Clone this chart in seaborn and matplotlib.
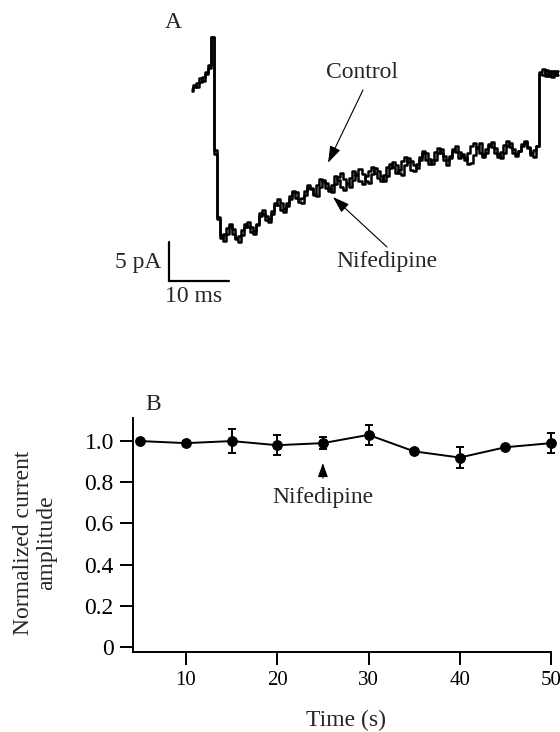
import matplotlib
matplotlib.use("Agg")
import matplotlib.pyplot as plt
import seaborn as sns
import numpy as np

# panel A: two whole-cell current traces, one sample every 0.5 ms (pA)
sample_ms = 0.5
control_pa = [
    -1.4, -0.6, -0.9, 0.2, -0.1, 1.0, 1.9, 5.5, -9.0,
    -17.5, -19.9, -20.6, -19.7, -18.7, -19.1, -20.4, -20.8, -19.9, -18.8,
    -18.2, -18.8, -19.4, -18.6, -17.1, -17.2, -18.0, -18.2, -17.2, -16.0,
    -15.3, -15.8, -16.5, -15.8, -14.9, -14.3, -15.1, -15.6, -15.8, -14.8,
    -13.8, -14.0, -14.6, -13.5, -12.7, -13.0, -13.9, -14.2, -13.4, -12.3,
    -12.8, -13.7, -14.1, -13.3, -12.5, -11.7, -12.2, -12.9, -13.3, -12.3,
    -11.6, -11.1, -11.9, -12.6, -12.9, -12.2, -11.2, -10.7, -11.2, -11.9,
    -11.5, -10.4, -9.9, -10.5, -11.5, -11.7, -10.8, -9.9, -9.4, -10.2,
    -10.8, -10.2, -9.2, -8.7, -9.4, -10.2, -10.9, -10.0, -9.1, -8.5,
    -9.2, -9.7, -10.2, -9.3, -8.5, -8.1, -8.7, -9.4, -9.9, -9.3,
    -8.5, -8.0, -8.7, -9.5, -10.0, -9.3, -8.4, -8.1, -8.8, -9.5,
    -9.1, -8.2, -7.8, -8.6, -9.4, -9.0, -8.4,
    1.0, 1.4, 0.5, 1.2, 0.4, 1.1, 0.6,
]
nifedipine_pa = [
    -1.1, -0.9, -0.4, -0.2, 0.4, 0.8, 1.6, 5.5, -9.5,
    -17.8, -20.2, -19.8, -19.0, -18.5, -19.7, -20.3, -20.0, -19.2, -18.5,
    -18.8, -19.5, -19.8, -18.5, -17.4, -16.6, -17.4, -17.8, -16.8, -15.8,
    -16.0, -16.6, -16.9, -16.1, -15.2, -14.2, -14.4, -15.3, -15.1, -14.2,
    -13.4, -13.8, -14.7, -14.9, -13.7, -12.8, -13.2, -13.9, -14.3, -13.3,
    -12.4, -11.9, -12.7, -13.2, -13.7, -12.8, -12.1, -11.4, -12.1, -12.9,
    -13.2, -12.1, -11.3, -11.7, -12.3, -13.0, -12.3, -11.3, -10.5, -10.9,
    -11.9, -12.2, -10.9, -10.0, -10.4, -10.9, -11.3, -10.2, -9.1, -9.4,
    -10.1, -10.8, -10.3, -9.4, -8.9, -9.7, -10.3, -9.7, -8.9, -9.2,
    -10.0, -9.5, -10.0, -10.7, -10.6, -9.6, -8.6, -8.1, -9.6, -8.8,
    -8.2, -8.6, -9.4, -9.9, -9.2, -8.3, -7.8, -8.6, -9.4, -9.8,
    -9.1, -8.4, -7.9, -8.7, -9.6, -9.9, -8.5,
    0.8, 0.6, 1.3, 0.5, 1.2, 0.7, 1.2,
]

# panel B: normalized current amplitude over time
time_s = [5, 10, 15, 20, 25, 30, 35, 40, 45, 50]
amplitude = [1.00, 0.99, 1.00, 0.98, 0.99, 1.03, 0.95, 0.92, 0.97, 0.99]
amplitude_err = [0.005, 0.01, 0.06, 0.05, 0.03, 0.05, 0.012, 0.05, 0.008, 0.05]

W, H = 560, 732
FS = 17


def fig_xy(x, y):
    # pixel position -> figure fraction
    return x / W, 1 - y / H


sns.set_style("ticks")
plt.rcParams["font.family"] = ["Liberation Serif", "DejaVu Serif"]
plt.rcParams["font.size"] = FS

fig = plt.figure(figsize=(W / 100, H / 100), dpi=100)

# ---- panel A ----
axA = fig.add_axes([160 / W, 1 - 300 / H, 400 / W, 280 / H])
t_ms = np.arange(len(control_pa)) * sample_ms
for trace in (control_pa, nifedipine_pa):
    sns.lineplot(x=t_ms, y=trace, color="black", lw=1.8, sort=False, estimator=None,
                 drawstyle="steps-mid", ax=axA)
axA.set_xlim(-5.333, 61.333)
axA.set_ylim(-28.2, 7.7)
axA.set_axis_off()

# scale bar: 10 ms x 5 pA
axA.plot([-3.83, -3.83, 6.17], [-20.8, -25.8, -25.8], color="black", lw=1.6,
         solid_joinstyle="miter", clip_on=False)
fig.text(*fig_xy(161, 262), "5 pA", ha="right", va="center")
fig.text(*fig_xy(165, 296), "10 ms", ha="left", va="center")
fig.text(*fig_xy(165, 22), "A", ha="left", va="center")

arrow = dict(arrowstyle="-|>,head_length=0.6,head_width=0.2", lw=0.8, color="black",
             shrinkA=0, shrinkB=0)
axA.annotate("", xy=(22.67, -10.6), xytext=fig_xy(363, 90),
             textcoords="figure fraction", arrowprops=arrow)
fig.text(*fig_xy(362, 72), "Control", ha="center", va="center")
axA.annotate("", xy=(23.5, -15.0), xytext=fig_xy(387, 247),
             textcoords="figure fraction", arrowprops=arrow)
fig.text(*fig_xy(387, 261), "Nifedipine", ha="center", va="center")

# ---- panel B ----
axB = fig.add_axes([133 / W, 1 - 652 / H, 418 / W, 234 / H])
sns.lineplot(x=time_s, y=amplitude, color="black", lw=1.4, marker="o", markersize=7,
             markeredgecolor="black", estimator=None, clip_on=False, ax=axB)
eb = axB.errorbar(time_s, amplitude, yerr=amplitude_err, fmt="none", ecolor="black",
                  elinewidth=1.4, capsize=3, capthick=1.4)
for part in eb.lines[1] + eb.lines[2]:
    part.set_clip_on(False)
axB.set_xlim(4.19, 50)
axB.set_ylim(-0.024, 1.112)
axB.set_xticks([10, 20, 30, 40, 50])
axB.set_yticks([0, 0.2, 0.4, 0.6, 0.8, 1.0])
axB.set_yticklabels(["0", "0.2", "0.4", "0.6", "0.8", "1.0"])
sns.despine(ax=axB)
for s in ["left", "bottom"]:
    axB.spines[s].set_linewidth(1.4)
    axB.spines[s].set_color("black")
axB.tick_params(axis="x", length=9.5, width=1.4, pad=4.5, labelsize=15, colors="black")
axB.tick_params(axis="y", length=9.5, width=1.4, pad=4.3, labelsize=FS, colors="black")
axB.set_xlabel("")
axB.set_ylabel("")

axB.annotate("", xy=(25, 0.893), xytext=(25, 0.82),
             arrowprops=dict(arrowstyle="-|>,head_length=0.5,head_width=0.18", lw=0.8,
                             color="black", shrinkA=0, shrinkB=0))
axB.text(25, 0.728, "Nifedipine", ha="center", va="center")

fig.text(*fig_xy(145, 405), "B", ha="left", va="center")
fig.text(*fig_xy(35, 543), "Normalized current\namplitude", rotation=90,
         ha="center", va="center", multialignment="center", linespacing=1.1)
fig.text(*fig_xy(346, 720), "Time (s)", ha="center", va="center")

fig.savefig("out.png", dpi=100)
